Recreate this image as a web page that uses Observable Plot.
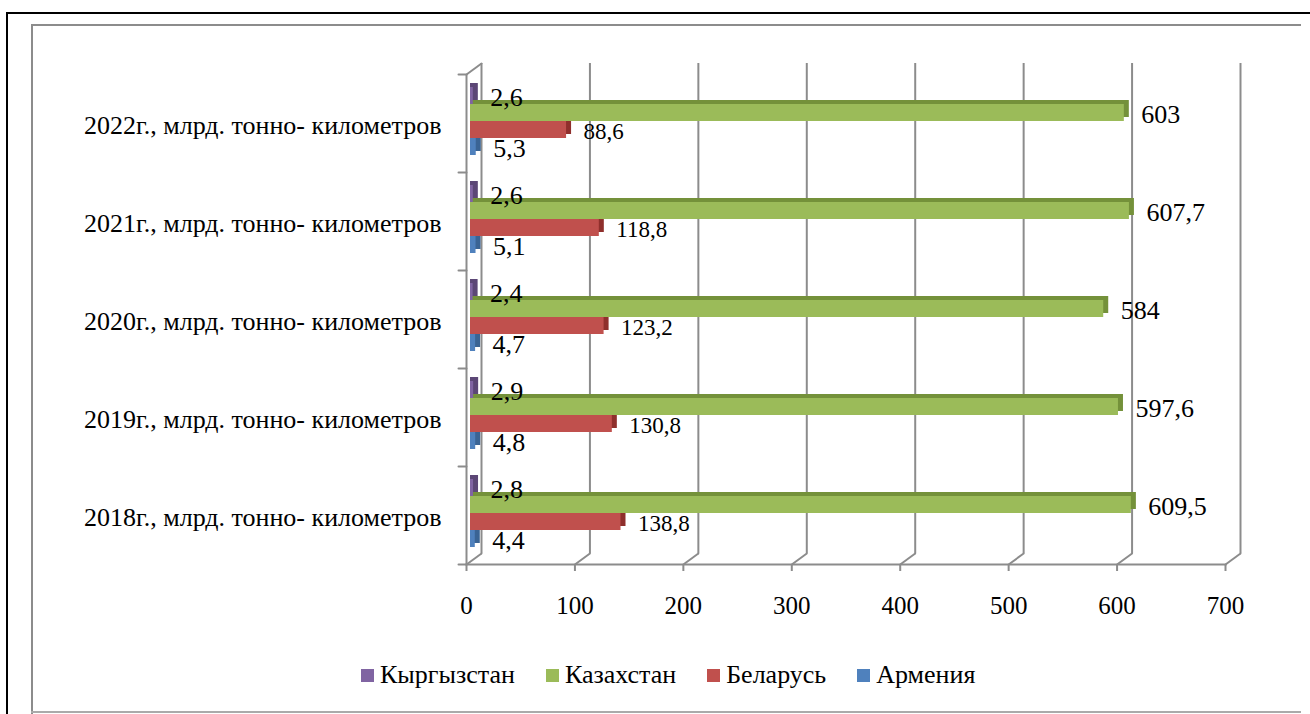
<!DOCTYPE html>
<html>
<head>
<meta charset="utf-8">
<script src="https://cdn.jsdelivr.net/npm/d3@7"></script>
<script src="https://cdn.jsdelivr.net/npm/@observablehq/plot@0.6"></script>
<style>
  html, body { margin: 0; padding: 0; background: #fff; }
  body { width: 1310px; height: 714px; position: relative; overflow: hidden; font-family: "Liberation Serif", "Tinos", "DejaVu Serif", "Noto Serif", serif; }
  .ln { position: absolute; }
  #chart { position: absolute; left: 0; top: 0; }
  #legend { position: absolute; left: 361px; top: 662px; height: 26px; display: flex; align-items: center; font-size: 26px; color: #000; white-space: nowrap; }
  #legend .item { display: flex; align-items: center; margin-right: 31px; }
  #legend .sw { width: 13px; height: 13px; margin-right: 6px; }
  #chart svg text { font-family: "Liberation Serif", "Tinos", "DejaVu Serif", "Noto Serif", serif; }
</style>
</head>
<body>
<div class="ln" style="left:6px;top:12px;width:1304px;height:2px;background:#000"></div>
<div class="ln" style="left:6px;top:12px;width:2px;height:702px;background:#000"></div>
<div class="ln" style="left:31px;top:24px;width:1270px;height:2px;background:#8c8c8c"></div>
<div class="ln" style="left:31px;top:24px;width:2px;height:690px;background:#8c8c8c"></div>
<div class="ln" style="left:31px;top:711px;width:1270px;height:2px;background:#aaaaaa"></div>
<div id="chart"></div>
<div id="legend"></div>
<script>
// ---- data ----
const categories = [
  "2018г., млрд. тонно- километров",
  "2019г., млрд. тонно- километров",
  "2020г., млрд. тонно- километров",
  "2021г., млрд. тонно- километров",
  "2022г., млрд. тонно- километров"
];
const countries = ["Кыргызстан", "Казахстан", "Беларусь", "Армения"];
const kyrgyzstan = [2.8, 2.9, 2.4, 2.6, 2.6];
const kazakhstan = [609.5, 597.6, 584, 607.7, 603];
const belarus    = [138.8, 130.8, 123.2, 118.8, 88.6];
const armenia    = [4.4, 4.8, 4.7, 5.1, 5.3];
const xTicks = [0, 100, 200, 300, 400, 500, 600, 700];

// ---- styles ----
const colors = ["#8064a2", "#9bbb59", "#c0504d", "#4f81bd"];
const darkColors = ["#5c4776", "#74913a", "#8f2f2c", "#3a6494"];
const labelSizes = [26, 26, 23, 26];
const grid = "#8c8c8c";
const serif = "Liberation Serif, Tinos, DejaVu Serif, Noto Serif, serif";

const series = [kyrgyzstan, kazakhstan, belarus, armenia];
const data = [];
categories.forEach((cat, i) => {
  countries.forEach((c, k) => data.push({category: cat, country: c, value: series[k][i]}));
});
const darkOf = c => darkColors[countries.indexOf(c)];
const sizeOf = c => labelSizes[countries.indexOf(c)];
const fmt = v => String(v).replace(".", ",");

const bottomCat = categories[0];
const topCat = categories[categories.length - 1];
const line = {draw(ctx, l) { ctx.moveTo(0, 0); ctx.lineTo(0, -l); }};
const depthX = 15, depthY = -11;
const depthLen = Math.hypot(depthX, depthY);
const depthAngle = Math.atan2(depthX, -depthY) * 180 / Math.PI;

const plot = Plot.plot({
  width: 1310,
  height: 625,
  marginLeft: 466,
  marginRight: 85,
  marginTop: 72,
  marginBottom: 60,
  style: {fontFamily: serif, fontSize: "26px", background: "transparent", color: "#000", overflow: "visible"},
  x: {domain: [0, 700], label: null},
  y: {domain: countries, paddingInner: 0, paddingOuter: 0.78, axis: null},
  fy: {domain: categories.slice().reverse(), padding: 0, label: null},
  color: {domain: countries, range: colors},
  marks: [
    // back wall gridlines
    Plot.ruleX(xTicks, {x: d => d, dx: depthX, dy: depthY, stroke: grid, strokeWidth: 2}),
    // front left wall
    Plot.ruleX([0], {x: d => d, stroke: grid, strokeWidth: 2}),
    // floor front line
    Plot.frame({anchor: "bottom", fy: () => bottomCat, stroke: grid, strokeWidth: 2}),
    // floor depth diagonals
    Plot.vector(xTicks, {x: d => d, fy: () => bottomCat, frameAnchor: "bottom", anchor: "start", length: depthLen, rotate: depthAngle, shape: line, stroke: grid, strokeWidth: 2}),
    // top-left depth diagonal
    Plot.vector([0], {x: d => d, fy: () => topCat, frameAnchor: "top", anchor: "start", length: depthLen, rotate: depthAngle, shape: line, stroke: grid, strokeWidth: 2}),
    // category boundary ticks on the left
    Plot.vector([0], {frameAnchor: "top-left", anchor: "start", length: 8, rotate: -90, shape: line, stroke: grid, strokeWidth: 2}),
    Plot.vector([0], {fy: () => bottomCat, frameAnchor: "bottom-left", anchor: "start", length: 8, rotate: -90, shape: line, stroke: grid, strokeWidth: 2}),
    // bars: depth faces (top + end) then front faces
    Plot.barX(data, {x: "value", y: "country", fy: "category", fill: d => darkOf(d.country), dx: 9, dy: -6, insetLeft: -5}),
    Plot.barX(data, {x: "value", y: "country", fy: "category", fill: "country", dx: 4, dy: -2}),
    // value labels
    Plot.text(data, {x: "value", y: "country", fy: "category", text: d => fmt(d.value), dx: 21, dy: 0, textAnchor: "start", fontSize: d => sizeOf(d.country), fontFamily: serif, fill: "#000"}),
    // axes
    Plot.axisX(xTicks, {anchor: "bottom", tickSize: 7, tickPadding: 25, fontSize: 25, fontFamily: serif, stroke: grid, strokeWidth: 2, fill: "#000", label: null}),
    Plot.axisFy({anchor: "left", tickSize: 0, tickPadding: 25, fontSize: 26, fontFamily: serif, fill: "#000", label: null, dy: 2})
  ]
});
document.getElementById("chart").appendChild(plot);

// legend
const legend = document.getElementById("legend");
countries.forEach((c, k) => {
  const item = document.createElement("div");
  item.className = "item";
  const sw = document.createElement("div");
  sw.className = "sw";
  sw.style.background = colors[k];
  const t = document.createElement("span");
  t.textContent = c;
  item.appendChild(sw);
  item.appendChild(t);
  legend.appendChild(item);
});
</script>
</body>
</html>
